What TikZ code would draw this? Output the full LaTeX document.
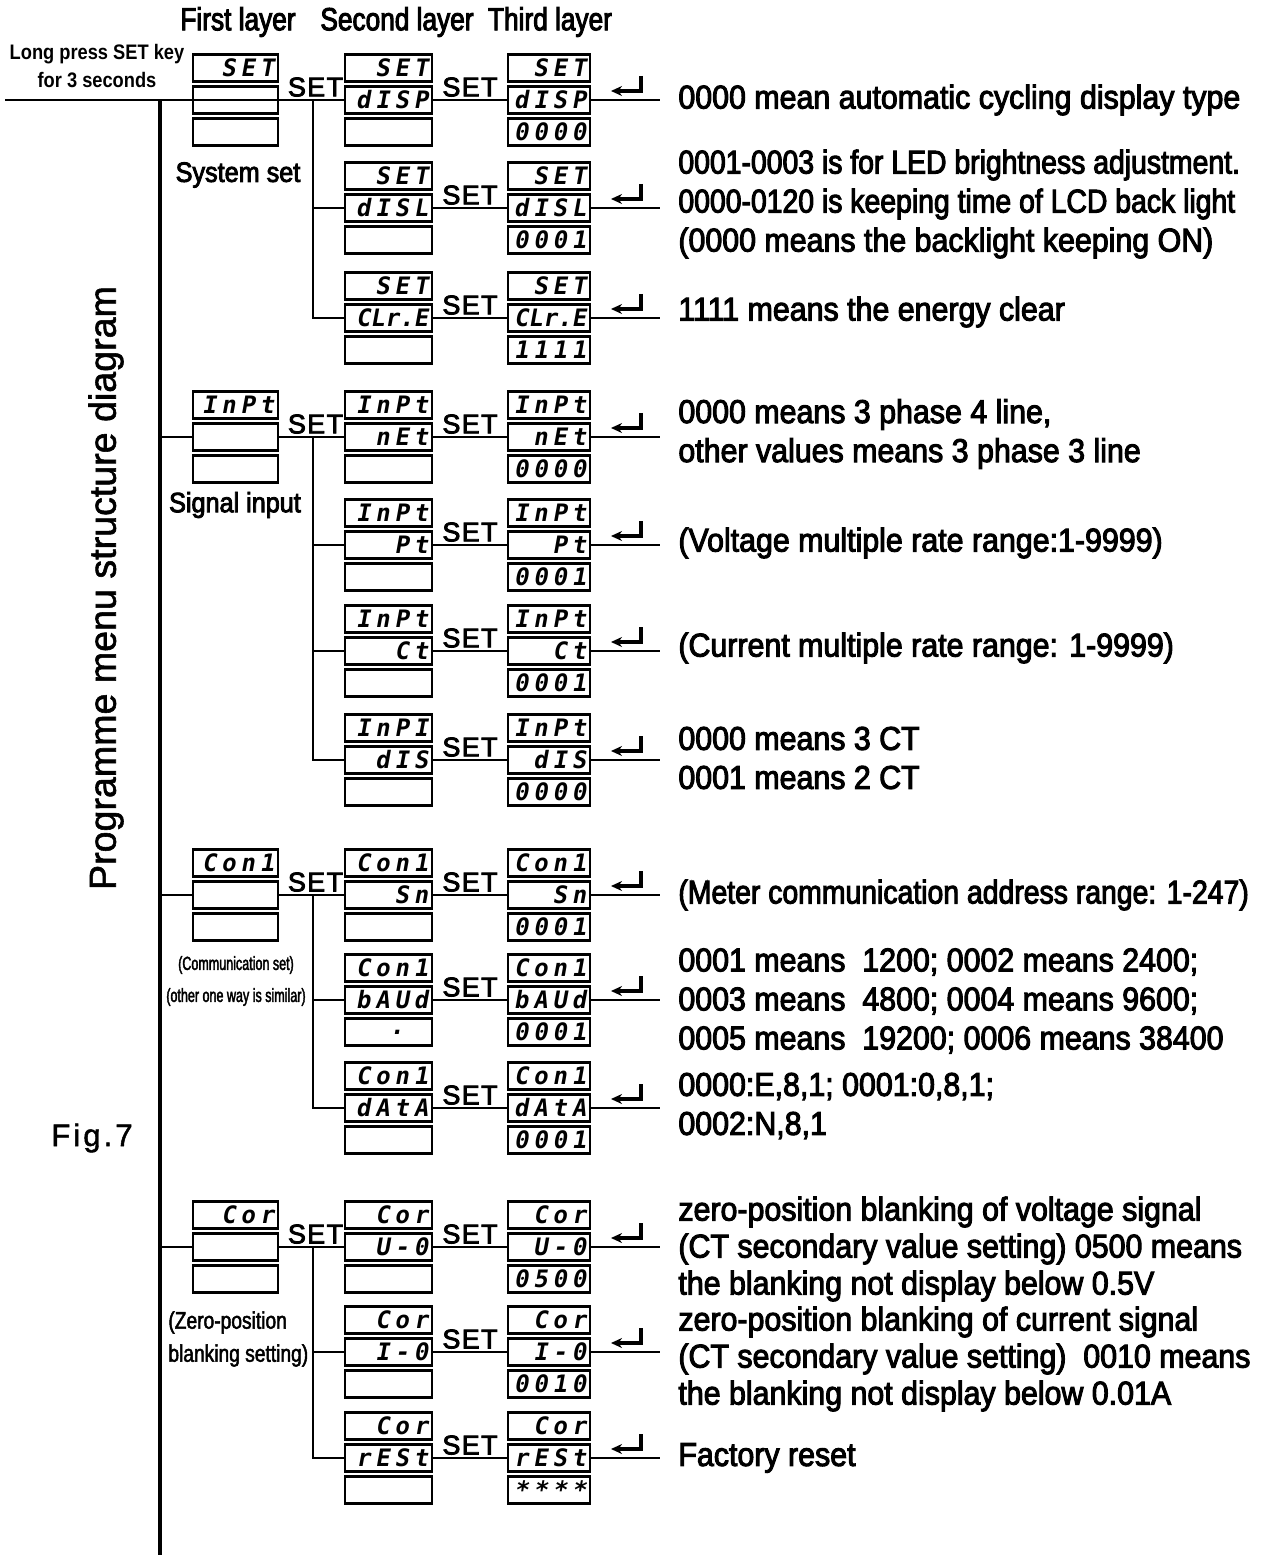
\documentclass[tikz,border=0pt]{standalone}
\usepackage{fontspec}
\setmainfont{Liberation Sans}
\newfontfamily\descfont[FakeStretch=0.92,FakeBold=3]{Liberation Sans}
\newfontfamily\descN[FakeStretch=0.86,FakeBold=3]{Liberation Sans}
\newfontfamily\headfont[FakeStretch=0.82,FakeBold=3]{Liberation Sans}
\newfontfamily\grpfont[FakeStretch=0.9,FakeBold=3]{Liberation Sans}
\newfontfamily\boldcond[FakeStretch=0.87]{Liberation Sans Bold}
\newfontfamily\lcdfont[FakeSlant=0.18,LetterSpace=20]{DejaVu Sans Mono Bold}
\newfontfamily\lcdtight[FakeSlant=0.18,LetterSpace=0]{DejaVu Sans Mono Bold}
\newfontfamily\tinyfont[FakeStretch=0.66,FakeBold=2]{Liberation Sans}
\newfontfamily\zerofont[FakeStretch=0.8,FakeBold=2]{Liberation Sans}
\newfontfamily\figfont[LetterSpace=10,FakeBold=1.5]{Liberation Sans}
\newfontfamily\titlefont[FakeBold=1.5]{Liberation Sans}
\newfontfamily\setlabfont[LetterSpace=5,FakeBold=3]{Liberation Sans}
\usetikzlibrary{arrows.meta}
\newcommand\disp[7]{%
  \node[cell,#4] (#1t) at (#2,#3-32) {#5};
  \node[cell,#4] (#1m) at (#2,#3) {#6};
  \node[cell,#4] (#1b) at (#2,#3+32) {#7};}
\newcommand\enterkey[1]{%
  \draw[enterline] (641,#1-24) -- (641,#1-9) -- (611,#1-9);}
\newcommand\clre{{\lcdtight CLr.E}}
\begin{document}
\begin{tikzpicture}[x=0.5pt,y=-0.5pt,
  cell/.style={draw,line width=1.4pt,minimum height=13.5pt,inner xsep=2pt,inner ysep=0pt,
    font=\lcdfont\fontsize{12}{12}\selectfont,align=right,anchor=center},
  lA/.style={text width=38.5pt},
  lB/.style={text width=39.5pt},
  lC/.style={text width=37pt},
  conn/.style={line width=1.4pt},
  mainline/.style={line width=1.8pt},
  enterline/.style={line width=1.6pt,-{Stealth[length=5.5pt,width=5pt]}},
  setlab/.style={font=\setlabfont\fontsize{13.5}{13.5}\selectfont,inner sep=1pt},
  desc/.style={font=\descfont\fontsize{16.5}{19.5}\selectfont,align=left,anchor=west,inner sep=0pt},
  head/.style={font=\headfont\fontsize{16}{16}\selectfont,inner sep=0pt},
  grp/.style={font=\grpfont\fontsize{14}{16}\selectfont,inner sep=0pt}]
\fill[white] (0,0) rectangle (1260,1561);
\useasboundingbox (0,0) rectangle (1260,1561);

% headers
\node[head] (h1) at (238,22) {First layer};
\node[head] (h2) at (397,22) {Second layer};
\node[head] (h3) at (550,22) {Third layer};
\node[font=\boldcond\fontsize{10.5}{14}\selectfont,align=center,inner sep=0pt] (lp) at (97,66) {Long press SET key\\for 3 seconds};
\node[rotate=90,font=\titlefont\fontsize{18.8}{18.8}\selectfont,inner sep=0pt] (title) at (106,588) {Programme menu structure diagram};
\node[font=\figfont\fontsize{15.5}{15.5}\selectfont,inner sep=0pt] (fig) at (92,1138) {Fig.7};

% main lines
\coordinate (start) at (5,100);
\coordinate (mtop) at (160,100);
\coordinate (mbot) at (160,1555);
\draw[mainline] (mtop) -- (mbot);

% ===== Section 1: System set
\disp{sA}{235.5}{100}{lA}{SET}{}{}
\disp{sAa}{388.5}{100}{lB}{SET}{dISP}{}
\disp{sAaz}{549}{100}{lC}{SET}{dISP}{0000}
\disp{sAb}{388.5}{208}{lB}{SET}{dISL}{}
\disp{sAbz}{549}{208}{lC}{SET}{dISL}{0001}
\disp{sAc}{388.5}{318}{lB}{SET}{\clre}{}
\disp{sAcz}{549}{318}{lC}{SET}{\clre}{1111}
\node[grp] (gA) at (238,175) {System set};
\draw[conn] (start) -- (sAm.west);
\draw[conn] (sAm.west) -- (sAm.east);
\draw[conn] (sAm.east) -- node[setlab,above,xshift=2pt]{SET} (sAam.west);
\coordinate (jA) at (313,100);
\draw[conn] (jA) -- (jA |- sAcm.west) -- (sAcm.west);
\draw[conn] (jA |- sAbm.west) -- (sAbm.west);

% ===== Section 2: Signal input
\disp{sB}{235.5}{437}{lA}{InPt}{}{}
\disp{sBa}{388.5}{437}{lB}{InPt}{nEt}{}
\disp{sBaz}{549}{437}{lC}{InPt}{nEt}{0000}
\disp{sBb}{388.5}{545}{lB}{InPt}{Pt}{}
\disp{sBbz}{549}{545}{lC}{InPt}{Pt}{0001}
\disp{sBc}{388.5}{651}{lB}{InPt}{Ct}{}
\disp{sBcz}{549}{651}{lC}{InPt}{Ct}{0001}
\disp{sBd}{388.5}{760}{lB}{InPI}{dIS}{}
\disp{sBdz}{549}{760}{lC}{InPt}{dIS}{0000}
\node[grp] (gB) at (235,505) {Signal input};
\draw[conn] (mtop |- sBm.west) -- (sBm.west);
\draw[conn] (sBm.east) -- node[setlab,above,xshift=2pt]{SET} (sBam.west);
\coordinate (jB) at (313,437);
\draw[conn] (jB) -- (jB |- sBdm.west) -- (sBdm.west);
\draw[conn] (jB |- sBbm.west) -- (sBbm.west);
\draw[conn] (jB |- sBcm.west) -- (sBcm.west);

% ===== Section 3: Communication
\disp{sC}{235.5}{895}{lA}{Con1}{}{}
\disp{sCa}{388.5}{895}{lB}{Con1}{Sn}{}
\disp{sCaz}{549}{895}{lC}{Con1}{Sn}{0001}
\disp{sCb}{388.5}{1000}{lB}{Con1}{bAUd}{.\rule{12pt}{0pt}}
\disp{sCbz}{549}{1000}{lC}{Con1}{bAUd}{0001}
\disp{sCc}{388.5}{1108}{lB}{Con1}{dAtA}{}
\disp{sCcz}{549}{1108}{lC}{Con1}{dAtA}{0001}
\node[font=\tinyfont\fontsize{9.5}{16}\selectfont,align=center,inner sep=0pt] (gC) at (236,981) {(Communication set)\\(other one way is similar)};
\draw[conn] (mtop |- sCm.west) -- (sCm.west);
\draw[conn] (sCm.east) -- node[setlab,above,xshift=2pt]{SET} (sCam.west);
\coordinate (jC) at (313,895);
\draw[conn] (jC) -- (jC |- sCcm.west) -- (sCcm.west);
\draw[conn] (jC |- sCbm.west) -- (sCbm.west);

% ===== Section 4: Zero-position blanking
\disp{sD}{235.5}{1247}{lA}{Cor}{}{}
\disp{sDa}{388.5}{1247}{lB}{Cor}{U-0}{}
\disp{sDaz}{549}{1247}{lC}{Cor}{U-0}{0500}
\disp{sDb}{388.5}{1352}{lB}{Cor}{I-0}{}
\disp{sDbz}{549}{1352}{lC}{Cor}{I-0}{0010}
\disp{sDc}{388.5}{1458}{lB}{Cor}{rESt}{}
\disp{sDcz}{549}{1458}{lC}{Cor}{rESt}{****}
\node[font=\zerofont\fontsize{12}{16.5}\selectfont,align=left,anchor=west,inner sep=0pt] (gD) at (168,1339) {(Zero-position\\blanking setting)};
\draw[conn] (mtop |- sDm.west) -- (sDm.west);
\draw[conn] (sDm.east) -- node[setlab,above,xshift=2pt]{SET} (sDam.west);
\coordinate (jD) at (313,1247);
\draw[conn] (jD) -- (jD |- sDcm.west) -- (sDcm.west);
\draw[conn] (jD |- sDbm.west) -- (sDbm.west);

% ===== layer 2 -> layer 3 and outputs
\foreach \r/\y in {sAa/100,sAb/208,sAc/318,sBa/437,sBb/545,sBc/651,sBd/760,sCa/895,sCb/1000,sCc/1108,sDa/1247,sDb/1352,sDc/1458}{
  \draw[conn] (\r m.east) -- node[setlab,above]{SET} (\r zm.west);
  \coordinate (\r end) at (660,\y);
  \draw[conn] (\r zm.east) -- (\r end);
  \enterkey{\y}
}

% descriptions
\node[desc] (dA1) at (678,100) {0000 mean automatic cycling display type};
\node[desc] (dA2) at (678,204) {{\descN 0001-0003 is for LED brightness adjustment.}\\{\descN 0000-0120 is keeping time of LCD back light}\\(0000 means the backlight keeping ON)};
\node[desc] (dA3) at (678,312) {1111 means the energy clear};
\node[desc] (dB1) at (678,434) {0000 means 3 phase 4 line,\\other values means 3 phase 3 line};
\node[desc] (dB2) at (678,543) {(Voltage multiple rate range:1-9999)};
\node[desc] (dB3) at (678,648) {(Current multiple rate range: 1-9999)};
\node[desc] (dB4) at (678,758) {0000 means 3 CT\\0001 means 2 CT};
\node[desc] (dC1) at (678,895) {\descN (Meter communication address range: 1-247)};
\node[desc] (dC2) at (678,1001) {0001 means\ \ 1200; 0002 means 2400;\\0003 means\ \ 4800; 0004 means 9600;\\0005 means\ \ 19200; 0006 means 38400};
\node[desc] (dC3) at (678,1106) {0000:E,8,1; 0001:0,8,1;\\0002:N,8,1};
\node[desc,font=\descfont\fontsize{16.5}{18.5}\selectfont] (dD1) at (678,1249) {zero-position blanking of voltage signal\\(CT secondary value setting) 0500 means\\the blanking not display below 0.5V};
\node[desc,font=\descfont\fontsize{16.5}{18.5}\selectfont] (dD2) at (678,1359) {zero-position blanking of current signal\\(CT secondary value setting)\ \ 0010 means\\the blanking not display below 0.01A};
\node[desc] (dD3) at (678,1458) {Factory reset};
\end{tikzpicture}
\end{document}
